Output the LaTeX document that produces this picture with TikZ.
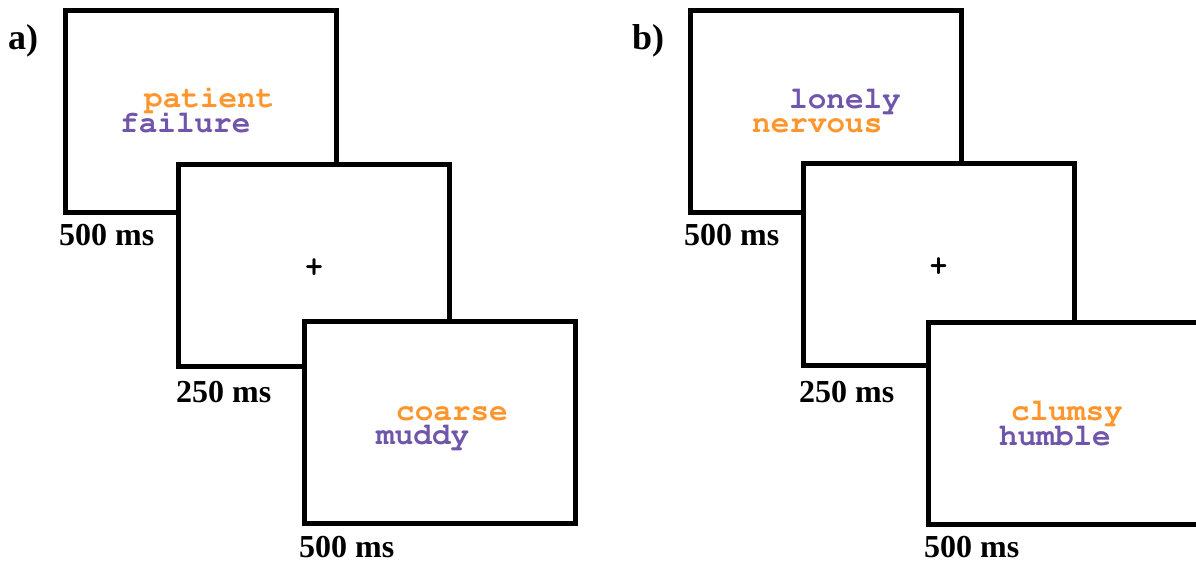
\documentclass[tikz,border=0pt]{standalone}
\usepackage[T1]{fontenc}
\usepackage{fontspec}
\setmainfont{Liberation Serif}
\definecolor{wordorange}{RGB}{255,150,45}
\definecolor{wordpurple}{RGB}{112,86,170}
\newcommand{\courbold}{\fontencoding{T1}\fontfamily{pcr}\fontseries{b}\selectfont}
\tikzset{
  frame/.style={draw=black, line width=5pt, fill=white, minimum width=271pt, minimum height=202pt, inner sep=0pt, outer sep=0pt, anchor=north west},
  word/.style={anchor=base west, inner sep=0pt, font=\courbold\fontsize{31}{31}\selectfont},
  orangeword/.style={word, text=wordorange},
  purpleword/.style={word, text=wordpurple},
  fixation/.style={inner sep=0pt, font=\courbold\fontsize{30}{30}\selectfont},
  timelabel/.style={anchor=base west, inner sep=0pt, font=\bfseries\fontsize{32}{32}\selectfont},
  panellabel/.style={anchor=base west, inner sep=0pt, font=\bfseries\fontsize{36}{36}\selectfont}
}
\begin{document}
\begin{tikzpicture}[x=1pt,y=-1pt]
\useasboundingbox (0,0) rectangle (1196,563);
\fill[white] (0,0) rectangle (1196,563);
\clip (0,0) rectangle (1196,563);
% panel a
\node[panellabel] (pa) at (8,49) {a)};
\node[frame] (a1) at (65,10) {};
\node[orangeword] (a1w1) at (144,107) {patient};
\node[purpleword] (a1w2) at (120,132) {failure};
\node[timelabel] (a1t) at (59,245) {500 ms};
\node[frame] (a2) at (178.5,164) {};
\node[fixation] (a2p) at ([yshift=-3pt]a2.center) {+};
\node[timelabel] (a2t) at (176,402) {250 ms};
\node[frame] (a3) at (304,321) {};
\node[orangeword] (a3w1) at (396,420) {coarse};
\node[purpleword] (a3w2) at (376,444) {muddy};
\node[timelabel] (a3t) at (299,557) {500 ms};
% panel b
\node[panellabel] (pb) at (632,49) {b)};
\node[frame] (b1) at (690,10) {};
\node[purpleword] (b1w1) at (789,108) {lonely};
\node[orangeword] (b1w2) at (752,132) {nervous};
\node[timelabel] (b1t) at (684,245) {500 ms};
\node[frame] (b2) at (803,163) {};
\node[fixation] (b2p) at ([yshift=-3pt]b2.center) {+};
\node[timelabel] (b2t) at (799,402) {250 ms};
\node[frame] (b3) at (928,322) {};
\node[orangeword] (b3w1) at (1011,420) {clumsy};
\node[purpleword] (b3w2) at (999,445) {humble};
\node[timelabel] (b3t) at (924,557) {500 ms};
\end{tikzpicture}
\end{document}
